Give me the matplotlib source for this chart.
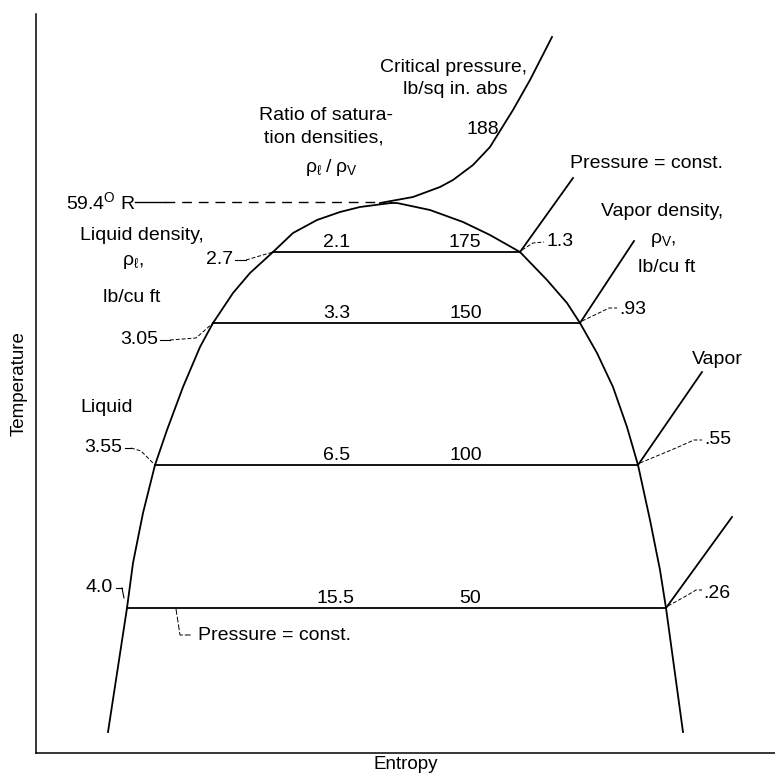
import matplotlib
matplotlib.use("Agg")
import matplotlib.pyplot as plt

plt.rcParams['font.family'] = ['Liberation Sans', 'DejaVu Sans']
plt.rcParams['mathtext.fontset'] = 'custom'
plt.rcParams['mathtext.rm'] = 'Liberation Sans'
plt.rcParams['mathtext.it'] = 'Liberation Sans'

# saturation dome (entropy, temperature) in arbitrary schematic units
liquid_s = [72, 91, 97, 107, 119, 131, 147, 164, 177, 197, 214, 237, 257, 281, 304, 324, 347, 355]
liquid_T = [21, 145, 190, 240, 288, 323, 366, 406, 430, 460, 480, 501, 520, 533, 541, 546, 549, 550]
vapor_s = [355, 361, 394, 427, 454, 484, 511, 531, 544, 561, 577, 591, 602, 614, 624, 630, 647]
vapor_T = [550, 550, 543, 531, 518, 501, 473, 450, 430, 400, 366, 326, 288, 233, 183, 145, 21]

# critical pressure curve above the critical point
crit_s = [344, 377, 404, 417, 437, 454, 477, 494, 516]
crit_T = [550, 556, 566, 573, 588, 606, 643, 673, 716]

# constant pressure lines across the dome
iso_T = [501, 430, 288, 145]
iso_left = [237, 177, 119, 91]
iso_right = [484, 544, 602, 630]
pressure = ['175', '150', '100', '50']
ratio = ['2.1', '3.3', '6.5', '15.5']
rho_liquid = ['2.7', '3.05', '3.55', '4.0']
rho_vapor = ['1.3', '.93', '.55', '.26']
# end points of the superheated isobars leaving the dome
iso_top_s = [537, 598, 666, 696]
iso_top_T = [575, 512, 381, 236]

crit_T_label = '59.4$^{\\rm O}$ R'

fig = plt.figure(figsize=(7.75, 7.77), dpi=100)
ax = fig.add_axes([36 / 775, 24 / 777, 739 / 775, 739 / 777])
ax.set_xlim(0, 739)
ax.set_ylim(0, 739)
ax.spines['top'].set_visible(False)
ax.spines['right'].set_visible(False)
ax.spines['left'].set_linewidth(1.1)
ax.spines['bottom'].set_linewidth(1.1)
ax.set_xticks([])
ax.set_yticks([])
ax.set_xlabel('Entropy', fontsize=13.5, labelpad=2)
ax.set_ylabel('Temperature', fontsize=13.5, labelpad=6)

lw = 1.3
ax.plot(liquid_s, liquid_T, color='black', lw=lw, solid_joinstyle='round')
ax.plot(vapor_s, vapor_T, color='black', lw=lw, solid_joinstyle='round')
ax.plot(crit_s, crit_T, color='black', lw=lw, solid_joinstyle='round')

# isobars
for i in range(len(iso_T)):
    ax.plot([iso_left[i], iso_right[i]], [iso_T[i], iso_T[i]], color='black', lw=lw)
    ax.plot([iso_right[i], iso_top_s[i]], [iso_T[i], iso_top_T[i]], color='black', lw=lw)

fs = 14
txt = dict(fontsize=fs, color='black', clip_on=False)

# critical temperature dashed line
ax.plot([99, 129], [551, 551], color='black', lw=1.0)
ax.plot([129, 345], [551, 551], color='black', lw=1.0, ls=(0, (7, 5)))
ax.text(99, 551, crit_T_label, ha='right', va='center', **txt)

# values along isobars
ratio_s = [301, 301, 301, 299]
press_s = [429, 430, 430, 434]
for i in range(len(iso_T)):
    ax.text(ratio_s[i], iso_T[i] + 1, ratio[i], ha='center', va='bottom', **txt)
    ax.text(press_s[i], iso_T[i] + 1, pressure[i], ha='center', va='bottom', **txt)

# liquid density labels with leaders
liq_lab = [(197, 493), (122, 413), (86, 305), (77, 165)]
for (s, T), lab in zip(liq_lab, rho_liquid):
    ax.text(s, T, lab, ha='right', va='center', **txt)
for seg in [([199, 210], [493, 493]), ([124, 134], [413, 413]), ([89, 95], [305, 305]), ([80, 86], [165, 165])]:
    ax.plot(seg[0], seg[1], color='black', lw=0.8)
leader = dict(color='black', lw=0.7, ls=(0, (4, 2)))
ax.plot([210, 237], [493, 501], **leader)
ax.plot([134, 160, 177], [413, 415, 430], **leader)
ax.plot([95, 105, 119], [305, 302, 288], **leader)
ax.plot([86, 88], [165, 155], color='black', lw=0.8)

# vapor density labels with leaders
vap_lab = [(510, 511), (583, 443), (668, 313), (667, 160)]
for (s, T), lab in zip(vap_lab, rho_vapor):
    ax.text(s, T, lab, ha='left', va='center', **txt)
ax.plot([486, 497, 508], [503, 510, 511], **leader)
ax.plot([546, 565, 573, 581], [432, 441, 445, 445], **leader)
ax.plot([604, 640, 658, 666], [290, 305, 313, 313], **leader)
ax.plot([632, 650, 660, 666], [147, 157, 163, 163], **leader)

# bottom pressure = const hook
ax.plot([140, 144, 156], [144, 118, 118], color='black', lw=0.7, ls=(0, (6, 2)))
ax.text(162, 118, 'Pressure = const.', ha='left', va='center', **txt)

# annotations
ax.text(534, 590, 'Pressure = const.', ha='left', va='center', **txt)
ax.text(417, 686, 'Critical pressure,', ha='center', va='center', **txt)
ax.text(419, 663, 'lb/sq in. abs', ha='center', va='center', **txt)
ax.text(447, 623, '188', ha='center', va='center', **txt)
ax.text(290, 638, 'Ratio of satura-', ha='center', va='center', **txt)
ax.text(288, 615, 'tion densities,', ha='center', va='center', **txt)
ax.text(295, 585, r'$\rho_{\ell}\;/\;\rho_{\rm V}$', ha='center', va='center', **txt)
ax.text(106, 518, 'Liquid density,', ha='center', va='center', **txt)
ax.text(97, 491, r'$\rho_{\ell}$,', ha='center', va='center', **txt)
ax.text(96, 455, 'lb/cu ft', ha='center', va='center', **txt)
ax.text(626, 541, 'Vapor density,', ha='center', va='center', **txt)
ax.text(627, 513, r'$\rho_{\rm V}$,', ha='center', va='center', **txt)
ax.text(631, 486, 'lb/cu ft', ha='center', va='center', **txt)
ax.text(71, 345, 'Liquid', ha='center', va='center', **txt)
ax.text(681, 393, 'Vapor', ha='center', va='center', **txt)

fig.savefig('out.png', dpi=100)
